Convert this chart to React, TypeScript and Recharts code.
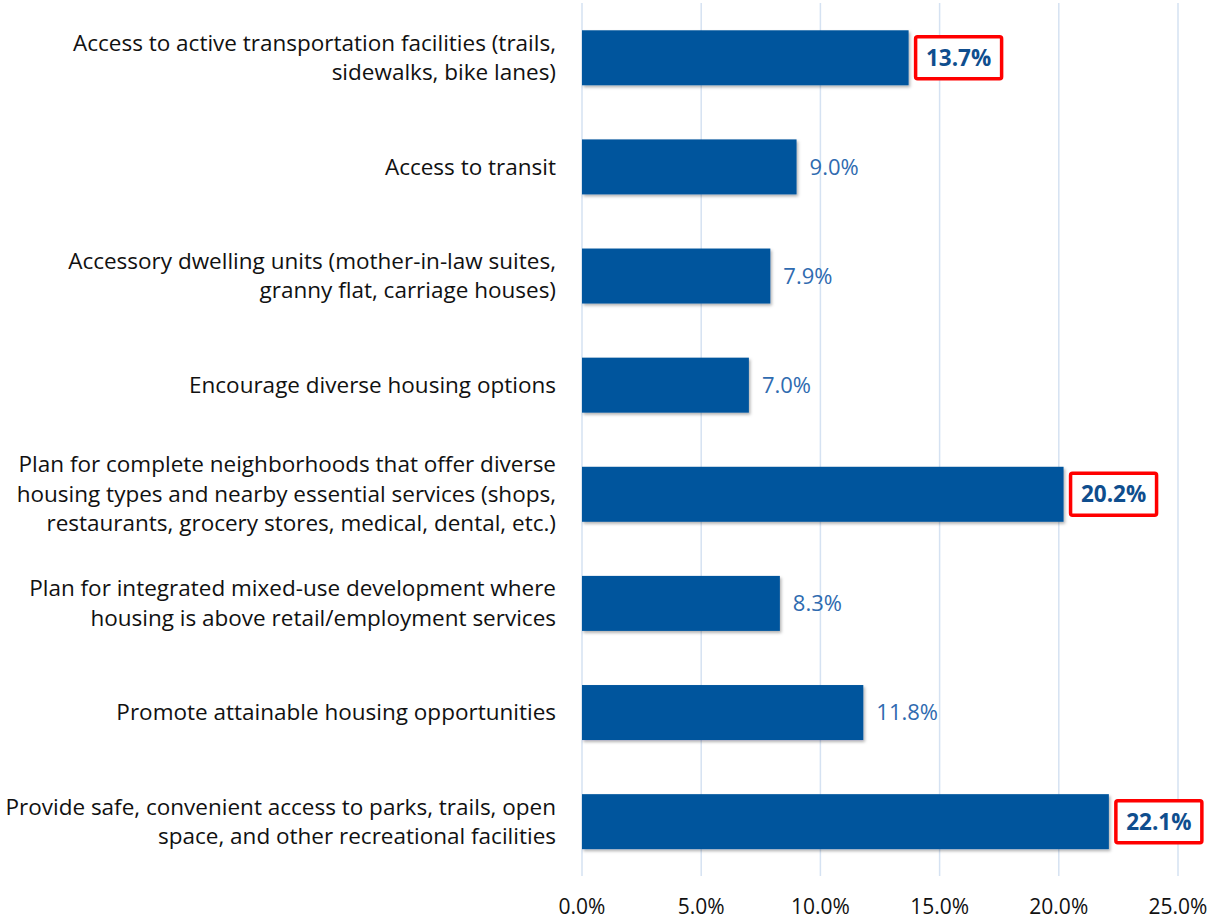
import React from 'react';
import { BarChart, Bar, XAxis, YAxis, CartesianGrid, LabelList } from 'recharts';

const categories: string[] = [
  'Access to active transportation facilities (trails,\nsidewalks, bike lanes)',
  'Access to transit',
  'Accessory dwelling units (mother-in-law suites,\ngranny flat, carriage houses)',
  'Encourage diverse housing options',
  'Plan for complete neighborhoods that offer diverse\nhousing types and nearby essential services (shops,\nrestaurants, grocery stores, medical, dental, etc.)',
  'Plan for integrated mixed-use development where\nhousing is above retail/employment services',
  'Promote attainable housing opportunities',
  'Provide safe, convenient access to parks, trails, open\nspace, and other recreational facilities',
];
const values: number[] = [13.7, 9.0, 7.9, 7.0, 20.2, 8.3, 11.8, 22.1];
const highlighted: boolean[] = [true, false, false, false, true, false, false, true];
const xTicks: number[] = [0, 5, 10, 15, 20, 25];

const data = categories.map((c, i) => ({ name: c, value: values[i], hl: highlighted[i] }));

const FONT = '"Open Sans", "Noto Sans", sans-serif';
const BAR = '#02559D';

const YTick = (props: any) => {
  const { x, y, payload } = props;
  const lines = String(payload.value).split('\n');
  const lh = 29.5;
  const tx = x - 20;
  const start = y - ((lines.length - 1) * lh) / 2;
  return (
    <text x={tx} y={start} textAnchor="end" fontFamily={FONT} fontSize={22.5} fill="#111">
      {lines.map((l, i) => (
        <tspan key={i} x={tx} y={start + i * lh} dy="0.35em">{l}</tspan>
      ))}
    </text>
  );
};

const XTick = (props: any) => {
  const { x, payload } = props;
  return (
    <text x={x} y={907} dy="0.35em" textAnchor="middle" fontFamily={FONT} fontSize={21} fill="#111">
      {Number(payload.value).toFixed(1)}%
    </text>
  );
};

const ValueLabel = (props: any) => {
  const { x, y, width, height, value, index } = props;
  const hl = highlighted[index];
  const cy = y + height / 2;
  const ex = x + width;
  const txt = Number(value).toFixed(1) + '%';
  if (hl) {
    return (
      <g>
        <rect x={ex + 7} y={cy - 21} width={86} height={42} fill="#fff" stroke="#FF0000" strokeWidth={3.5} rx={2} />
        <text x={ex + 50} y={cy} dy="0.35em" textAnchor="middle" fontFamily={FONT} fontSize={22.5} fontWeight={700} fill="#0F4E8E">
          {txt}
        </text>
      </g>
    );
  }
  return (
    <text x={ex + 13} y={cy} dy="0.35em" textAnchor="start" fontFamily={FONT} fontSize={22} fill="#2F6BB0">
      {txt}
    </text>
  );
};

const BarShape = (props: any) => {
  const { x, y, width, height } = props;
  return <rect x={x} y={y} width={width} height={height} fill={BAR} filter="url(#barShadow)" />;
};

export default function App() {
  return (
    <div style={{ position: 'absolute', left: 0, top: 0, width: 1215, height: 920, background: '#fff' }}>
      <svg width={0} height={0} style={{ position: 'absolute' }}>
        <defs>
          <filter id="barShadow" x="-5%" y="-10%" width="110%" height="130%">
            <feDropShadow dx="1.5" dy="2" stdDeviation="1.5" floodColor="#000" floodOpacity="0.3" />
          </filter>
        </defs>
      </svg>
      <BarChart
        width={1215}
        height={920}
        data={data}
        layout="vertical"
        margin={{ top: 3, right: 37, left: 0, bottom: 0 }}
        barCategoryGap="25%"
        style={{ overflow: 'visible' }}
      >
        <CartesianGrid horizontal={false} vertical={true} stroke="#D5E2F2" strokeWidth={1.5} />
        <XAxis
          type="number"
          domain={[0, 25]}
          ticks={xTicks}
          axisLine={false}
          tickLine={false}
          tick={<XTick />}
          height={44}
          interval={0}
        />
        <YAxis
          type="category"
          dataKey="name"
          width={582}
          axisLine={false}
          tickLine={false}
          tick={<YTick />}
          tickMargin={0}
          interval={0}
        />
        <Bar dataKey="value" isAnimationActive={false} shape={<BarShape />}>
          <LabelList dataKey="value" content={<ValueLabel />} />
        </Bar>
      </BarChart>
    </div>
  );
}
